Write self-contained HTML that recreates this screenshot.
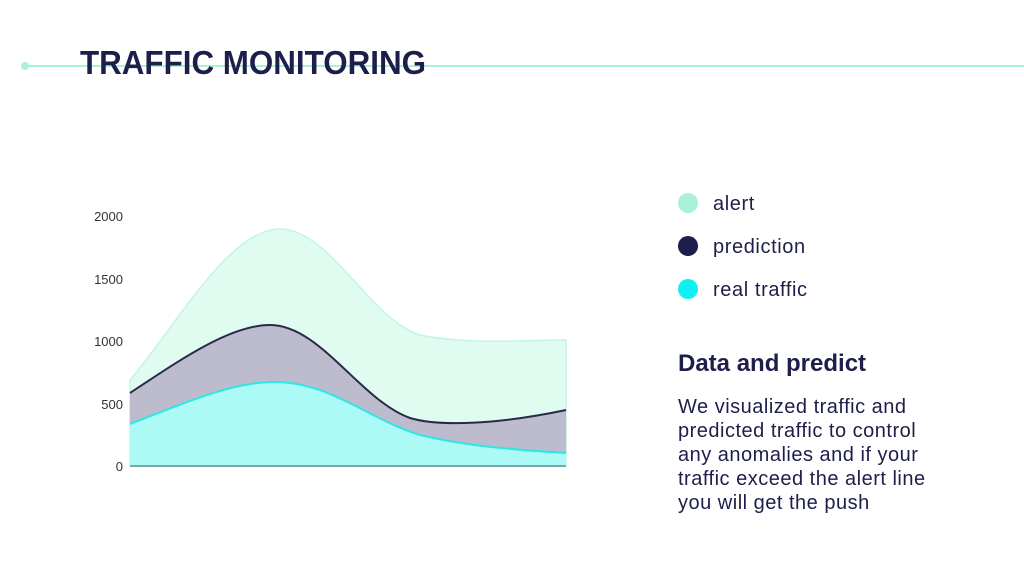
<!DOCTYPE html>
<html><head><style>
html,body{margin:0;padding:0;background:#fff;}
body{width:1024px;height:574px;position:relative;overflow:hidden;font-family:"Liberation Sans",sans-serif;}
.t{position:absolute;left:80px;top:44px;font-size:33px;font-weight:bold;color:#1e1e4a;transform:scaleX(0.95);transform-origin:0 0;white-space:nowrap;}
.lg{position:absolute;left:678px;font-size:20px;letter-spacing:0.6px;color:#1e1e4a;}
.lg span{display:inline-block;width:20px;height:20px;border-radius:50%;vertical-align:middle;margin-right:15px;position:relative;top:-2px;}
</style></head><body>
<svg width="1024" height="574" style="position:absolute;left:0;top:0">
<line x1="25" y1="66" x2="1024" y2="66" stroke="#a8f3d8" stroke-width="2"/>
<circle cx="25" cy="66" r="4" fill="#a8f3d8"/>
<g font-family="Liberation Sans" font-size="13" fill="#333" text-anchor="end">
<text x="123" y="221">2000</text><text x="123" y="284">1500</text><text x="123" y="346">1000</text><text x="123" y="409">500</text><text x="123" y="471">0</text>
</g>
<path d="M130,380 C180,320 230,229 280,229 C330,229 370,320 420,335 C470,345 520,340 566,340 L566,466 L130,466 Z" fill="#e0fbf0" stroke="#c4f4e2" stroke-width="1.5"/>
<path d="M130,393 C180,360 230,325 270,325 C320,325 360,400 410,418 C440,427 500,424 566,410 L566,466 L130,466 Z" fill="#bcbcce"/>
<path d="M130,393 C180,360 230,325 270,325 C320,325 360,400 410,418 C440,427 500,424 566,410" fill="none" stroke="#2a2a48" stroke-width="2"/>
<path d="M130,424 C180,405 230,382 275,382 C330,382 370,420 420,435 C470,447 520,450 566,453 L566,466 L130,466 Z" fill="#acfaf6"/>
<path d="M130,424 C180,405 230,382 275,382 C330,382 370,420 420,435 C470,447 520,450 566,453" fill="none" stroke="#30e6e0" stroke-width="2"/>
<line x1="130" y1="466" x2="566" y2="466" stroke="#7aa8a8" stroke-width="2"/>
</svg>
<div class="t">TRAFFIC MONITORING</div>
<div class="lg" style="top:193px"><span style="background:#a8f3d8"></span>alert</div>
<div class="lg" style="top:236px"><span style="background:#1e1e4a"></span>prediction</div>
<div class="lg" style="top:279px"><span style="background:#10f0f0"></span>real traffic</div>
<div style="position:absolute;left:678px;top:350px;font-size:24px;font-weight:bold;color:#1e1e4a">Data and predict</div>
<div style="position:absolute;left:678px;top:395px;font-size:20px;letter-spacing:0.5px;line-height:24px;color:#1e1e4a;white-space:nowrap">We visualized traffic and<br>predicted traffic to control<br>any anomalies and if your<br>traffic exceed the alert line<br>you will get the push</div>
</body></html>
